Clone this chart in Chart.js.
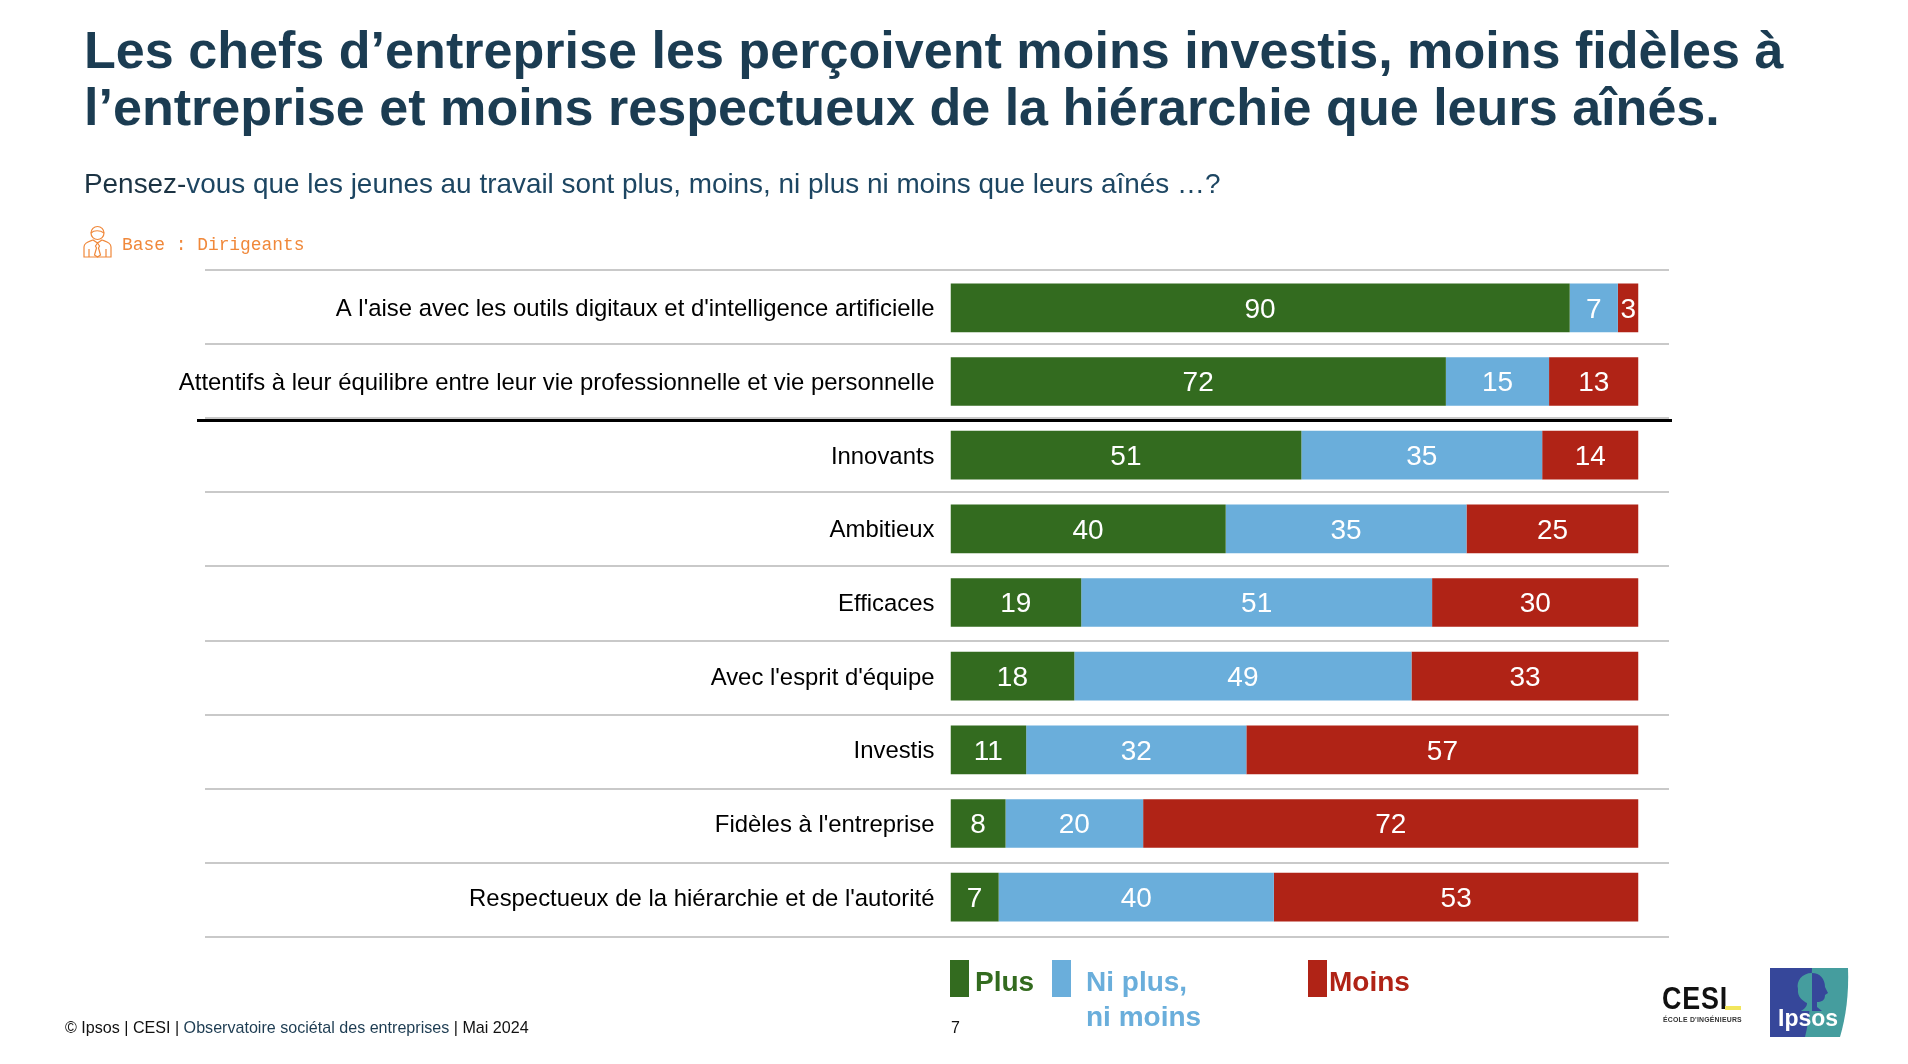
<!DOCTYPE html>
<html lang="fr">
<head>
<meta charset="utf-8">
<title>Ipsos CESI</title>
<script src="https://cdn.jsdelivr.net/npm/chart.js"></script>
<style>
    html, body { margin: 0; padding: 0; background: #fff; }
    body { width: 1908px; height: 1064px; position: relative; overflow: hidden; font-family: "Liberation Sans", Arial, sans-serif; }
    #chart { position: absolute; left: 0; top: 0; }
    .txt { position: absolute; white-space: nowrap; }
    #title { left: 84px; top: 22px; font-size: 52.1px; line-height: 57px; font-weight: bold; color: #1b3c52; }
    #subtitle { left: 84px; top: 167px; font-size: 27.9px; line-height: 34px; color: #1d4662; }
    #subtitle span { color: #1b3343; }
    #base { left: 122px; top: 235px; font-family: "Liberation Mono", monospace; font-size: 17.9px; line-height: 20px; color: #f0883a; }
    #footer { left: 65px; top: 1018px; font-size: 16.1px; line-height: 19px; color: #111; }
    #footer span { color: #1d3c52; }
    #page { left: 951px; top: 1018px; font-size: 16px; line-height: 19px; color: #111; }
    .swatch { position: absolute; top: 960px; width: 19px; height: 37px; }
    .leg { position: absolute; top: 964px; font-size: 28px; line-height: 35px; font-weight: bold; }
    svg { position: absolute; }
</style>
</head>
<body>
<canvas id="chart" width="1908" height="1064"></canvas>

<div class="txt" id="title">Les chefs d’entreprise les perçoivent moins investis, moins fidèles à<br>l’entreprise et moins respectueux de la hiérarchie que leurs aînés.</div>
<div class="txt" id="subtitle"><span>Pensez-</span>vous que les jeunes au travail sont plus, moins, ni plus ni moins que leurs aînés …?</div>

<svg style="left:83px;top:225px" width="30" height="34" viewBox="0 0 30 34" fill="none" stroke="#f0883a" stroke-width="1.2">
    <circle cx="14.500" cy="8" r="6.500"/>
    <path d="M8 8c3-3 9-3 13 0"/>
    <path d="M1 32v-10c0-4 4-5 9-7l4.500 3 4.500-3c5 2 9 3 9 7v10z"/>
    <path d="M14.500 18l-2 3 1 2-2 7 3 2 3-2-2-7 1-2z"/>
    <path d="M6 32v-8M23 32v-8"/>
</svg>
<div class="txt" id="base">Base : Dirigeants</div>

<div class="txt" id="footer">© Ipsos | CESI | <span>Observatoire sociétal des entreprises</span> | Mai 2024</div>
<div class="txt" id="page">7</div>

<!-- logos -->
<div class="txt" style="left:1662px;top:980px;font-size:32px;line-height:36px;font-weight:bold;color:#111;transform:scaleX(.84);transform-origin:left top;letter-spacing:1px">CESI</div>
<div style="position:absolute;left:1725px;top:1006px;width:16px;height:4px;background:#f2e65c"></div>
<div class="txt" style="left:1663px;top:1015px;font-size:8px;line-height:10px;font-weight:bold;color:#333;letter-spacing:.25px;transform:scaleX(.86);transform-origin:left top">ÉCOLE D'INGÉNIEURS</div>
<svg style="left:1770px;top:967px" width="79" height="71" viewBox="0 0 79 71">
    <path d="M0 1H78C79 26 76 50 70 70H0z" fill="#459d9e"/>
    <path d="M0 1H42C41 30 40 50 35 70H0z" fill="#36479a"/>
    <path d="M42 6C32 6 26 14 28 22C27 30 33 34 37 36C37 40 34 42 31 44H42z" fill="#459d9e"/>
    <path d="M42 6C50 6 55 12 55 20L58 26L55 28C55 34 51 35 47 35L47 40L52 44H42z" fill="#36479a"/>
    <text x="8" y="59" font-family="Liberation Sans" font-weight="bold" font-size="23" fill="#fff">Ipsos</text>
</svg>

<script>
// Values (% of respondents)
const categories = [
    "A l'aise avec les outils digitaux et d'intelligence artificielle",
    "Attentifs à leur équilibre entre leur vie professionnelle et vie personnelle",
    "Innovants",
    "Ambitieux",
    "Efficaces",
    "Avec l'esprit d'équipe",
    "Investis",
    "Fidèles à l'entreprise",
    "Respectueux de la hiérarchie et de l'autorité"
];
const plus = [90, 72, 51, 40, 19, 18, 11, 8, 7];
const niPlusNiMoins = [7, 15, 35, 35, 51, 49, 32, 20, 40];
const moins = [3, 13, 14, 25, 30, 33, 57, 72, 53];
const seriesNames = ['Plus', 'Ni plus,\nni moins', 'Moins'];
const seriesColors = ['#336b1f', '#6aaedb', '#b02316'];

// Values are drawn centered in white, no datalabels plugin available here
const barLabels = {
    id: 'barLabels',
    afterDatasetsDraw(chart) {
        const ctx = chart.ctx;
        ctx.save();
        ctx.font = '28px "Liberation Sans"';
        ctx.fillStyle = '#fff';
        ctx.textAlign = 'center';
        ctx.textBaseline = 'middle';
        chart.data.datasets.forEach((ds, i) => {
            chart.getDatasetMeta(i).data.forEach((bar, j) => {
                const c = bar.getCenterPoint();
                ctx.fillText(ds.data[j], c.x, c.y + 2);
            });
        });
        ctx.restore();
    }
};

// Category labels sit a little under the row center, tick options can't do that
const rowLabels = {
    id: 'rowLabels',
    afterDatasetsDraw(chart) {
        const ctx = chart.ctx;
        const y = chart.scales.y;
        ctx.save();
        ctx.font = '23.9px "Liberation Sans"';
        ctx.fillStyle = '#000';
        ctx.textAlign = 'right';
        ctx.textBaseline = 'middle';
        categories.forEach((label, i) => {
            ctx.fillText(label, chart.chartArea.left - 16, y.getPixelForValue(i) + 2);
        });
        ctx.restore();
    }
};

// Row separators are slightly wider apart than the bars, and run past the plot area
const separators = {
    id: 'separators',
    beforeDatasetsDraw(chart) {
        const ctx = chart.ctx;
        const lineTop = 270;
        const lineBottom = 937;
        const step = (lineBottom - lineTop) / categories.length;
        ctx.save();
        for (let i = 0; i <= categories.length; i++) {
            const py = Math.round(lineTop + i * step);
            ctx.strokeStyle = '#c9c9c9';
            ctx.lineWidth = 2;
            ctx.beginPath();
            ctx.moveTo(205, py);
            ctx.lineTo(1669, py);
            ctx.stroke();
        }
        // black line under the first two rows
        ctx.strokeStyle = '#000';
        ctx.lineWidth = 3;
        ctx.beginPath();
        ctx.moveTo(197, 420.5);
        ctx.lineTo(1672, 420.5);
        ctx.stroke();
        ctx.restore();
    }
};

new Chart(document.getElementById('chart'), {
    type: 'bar',
    data: {
        labels: categories,
        datasets: [plus, niPlusNiMoins, moins].map((data, i) => ({
            label: seriesNames[i],
            data,
            backgroundColor: seriesColors[i],
            borderWidth: 0,
            categoryPercentage: 1,
            barPercentage: 0.66
        }))
    },
    options: {
        indexAxis: 'y',
        responsive: false,
        animation: false,
        layout: { padding: { left: 0, right: 269.5, top: 271, bottom: 130 } },
        plugins: { legend: { display: false }, tooltip: { enabled: false } },
        scales: {
            x: { display: false, stacked: true, min: 0, max: 100 },
            y: {
                stacked: true,
                afterFit(scale) { scale.width = 950.5; },
                grid: { display: false },
                border: { display: false },
                ticks: { display: false }
            }
        }
    },
    plugins: [separators, barLabels, rowLabels]
});

// Legend, spaced as in the slide
const legendSwatchX = [950, 1052, 1308];
const legendTextX = [975, 1086, 1329];
seriesNames.forEach((name, i) => {
    const sw = document.createElement('div');
    sw.className = 'swatch';
    sw.style.left = legendSwatchX[i] + 'px';
    sw.style.background = seriesColors[i];
    document.body.appendChild(sw);
    const t = document.createElement('div');
    t.className = 'leg';
    t.style.left = legendTextX[i] + 'px';
    t.style.color = seriesColors[i];
    t.innerHTML = name.replace('\n', '<br>');
    document.body.appendChild(t);
});
</script>
</body>
</html>
